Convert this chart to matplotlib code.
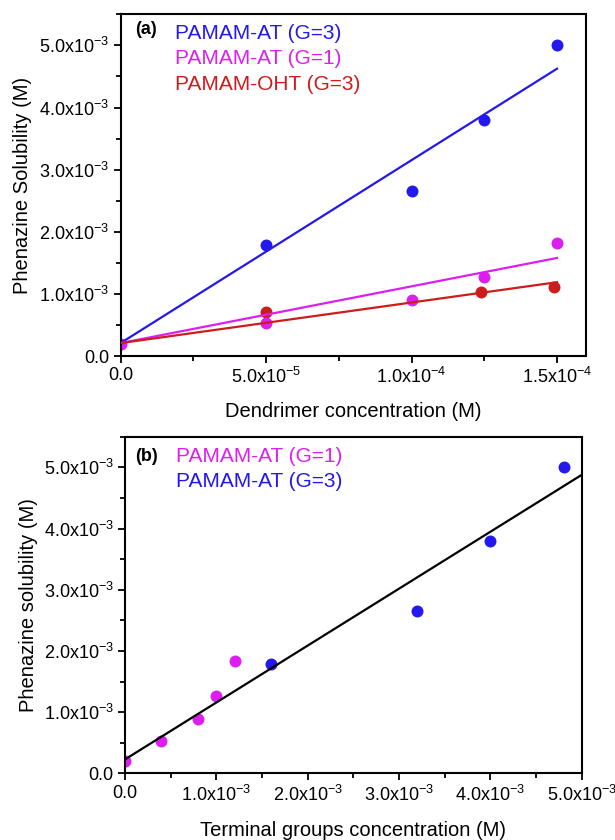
import numpy as np
import matplotlib
matplotlib.use('Agg')
import matplotlib.pyplot as plt
from matplotlib.ticker import MultipleLocator, FuncFormatter

plt.rcParams['font.family'] = ['Liberation Sans', 'DejaVu Sans']
plt.rcParams['mathtext.fontset'] = 'custom'
plt.rcParams['mathtext.rm'] = 'Liberation Sans'

# panel (a): dendrimer concentration (M) vs phenazine solubility (M)
x_g3 = [5.0e-5, 1.0e-4, 1.25e-4, 1.5e-4]
y_g3 = [1.785e-3, 2.653e-3, 3.794e-3, 5.01e-3]
x_g1 = [0.0, 5.0e-5, 1.0e-4, 1.25e-4, 1.5e-4]
y_g1 = [0.20e-3, 0.536e-3, 0.91e-3, 1.275e-3, 1.827e-3]
x_oht = [5.0e-5, 1.24e-4, 1.49e-4]
y_oht = [0.713e-3, 1.025e-3, 1.12e-3]

# linear fits (intercept, slope)
fit_g3 = (0.21e-3, 29.43)
fit_g1 = (0.21e-3, 9.13)
fit_oht = (0.21e-3, 6.53)

# panel (b): terminal groups concentration (M)
tx_g1 = [0.0, 4.0e-4, 8.0e-4, 1.0e-3, 1.2e-3]
ty_g1 = [0.20e-3, 0.526e-3, 0.895e-3, 1.27e-3, 1.83e-3]
tx_g3 = [1.6e-3, 3.2e-3, 4.0e-3, 4.8e-3]
ty_g3 = [1.79e-3, 2.65e-3, 3.79e-3, 5.0e-3]
fit_all = (0.228e-3, 0.930)

labels_a = ['PAMAM-AT (G=3)', 'PAMAM-AT (G=1)', 'PAMAM-OHT (G=3)']
labels_b = ['PAMAM-AT (G=1)', 'PAMAM-AT (G=3)']

BLUE = '#2318ee'
MAGENTA = '#dc1ff0'
RED = '#cc1c1c'


def sci_fmt(exp):
    def f(v, pos):
        if abs(v) < 1e-12:
            return '0.0'
        return r'$\mathregular{%.1fx10^{%d}}$' % (v / 10.0 ** exp, exp)
    return FuncFormatter(f)


def fmt_a(v, pos):
    if abs(v) < 1e-12:
        return '0.0'
    if v < 9e-5:
        return r'$\mathregular{%.1fx10^{-5}}$' % (v / 1e-5)
    return r'$\mathregular{%.1fx10^{-4}}$' % (v / 1e-4)


def style_axes(ax):
    for s in ax.spines.values():
        s.set_linewidth(1.5)
    ax.tick_params(which='both', direction='out', top=False, right=False,
                   width=1.3, labelsize=13, colors='black', pad=3)
    ax.tick_params(which='major', length=5)
    ax.tick_params(which='minor', length=3.5)


fig = plt.figure(figsize=(6.15, 8.4), dpi=100)
ms = 8.6

# ---------- (a)
ax1 = fig.add_axes([0.196, 0.576, 0.757, 0.407])
ax1.plot(x_g3, y_g3, 'o', color=BLUE, ms=ms, mew=0, zorder=2)
ax1.plot(x_oht, y_oht, 'o', color=RED, ms=ms, mew=0, zorder=2)
ax1.plot(x_g1, y_g1, 'o', color=MAGENTA, ms=ms, mew=0, zorder=2)
xf = np.array([0.0, 1.5e-4])
for (b0, k), c in zip([fit_g3, fit_g1, fit_oht], [BLUE, MAGENTA, RED]):
    ax1.plot(xf, b0 + k * xf, '-', color=c, lw=1.6, zorder=3)
ax1.set_xlim(0, 1.6e-4)
ax1.set_ylim(0, 5.5e-3)
ax1.xaxis.set_major_locator(MultipleLocator(5e-5))
ax1.xaxis.set_minor_locator(MultipleLocator(2.5e-5))
ax1.yaxis.set_major_locator(MultipleLocator(1e-3))
ax1.yaxis.set_minor_locator(MultipleLocator(5e-4))
ax1.xaxis.set_major_formatter(FuncFormatter(fmt_a))
ax1.yaxis.set_major_formatter(sci_fmt(-3))
style_axes(ax1)
ax1.set_xlabel('Dendrimer concentration (M)', fontsize=14.5)
ax1.set_ylabel('Phenazine Solubility (M)', fontsize=14.5)
ax1.xaxis.set_label_coords(0.5, -0.135)
ax1.yaxis.set_label_coords(-0.19, 0.5)
ax1.text(0.031, 0.955, '(a)', transform=ax1.transAxes, fontsize=13,
         fontweight='bold', va='center', ha='left')
for i, (lab, c) in enumerate(zip(labels_a, [BLUE, MAGENTA, RED])):
    ax1.text(0.117, 0.944 - i * 0.0745, lab, transform=ax1.transAxes,
             fontsize=15, color=c, va='center', ha='left')

# ---------- (b)
ax2 = fig.add_axes([0.203, 0.0792, 0.743, 0.4009])
ax2.plot(tx_g1, ty_g1, 'o', color=MAGENTA, ms=ms, mew=0, zorder=2)
ax2.plot(tx_g3, ty_g3, 'o', color=BLUE, ms=ms, mew=0, zorder=2)
xb = np.array([0.0, 5.0e-3])
ax2.plot(xb, fit_all[0] + fit_all[1] * xb, '-', color='black', lw=1.6, zorder=3)
ax2.set_xlim(0, 5.0e-3)
ax2.set_ylim(0, 5.5e-3)
ax2.xaxis.set_major_locator(MultipleLocator(1e-3))
ax2.xaxis.set_minor_locator(MultipleLocator(5e-4))
ax2.yaxis.set_major_locator(MultipleLocator(1e-3))
ax2.yaxis.set_minor_locator(MultipleLocator(5e-4))
ax2.xaxis.set_major_formatter(sci_fmt(-3))
ax2.yaxis.set_major_formatter(sci_fmt(-3))
style_axes(ax2)
ax2.set_xlabel('Terminal groups concentration (M)', fontsize=14.5)
ax2.set_ylabel('Phenazine solubility (M)', fontsize=14.5)
ax2.xaxis.set_label_coords(0.5, -0.14)
ax2.yaxis.set_label_coords(-0.19, 0.5)
ax2.text(0.022, 0.94, '(b)', transform=ax2.transAxes, fontsize=13,
         fontweight='bold', va='center', ha='left')
for i, (lab, c) in enumerate(zip(labels_b, [MAGENTA, BLUE])):
    ax2.text(0.112, 0.94 - i * 0.074, lab, transform=ax2.transAxes,
             fontsize=15, color=c, va='center', ha='left')

fig.savefig('out.png', dpi=100)
